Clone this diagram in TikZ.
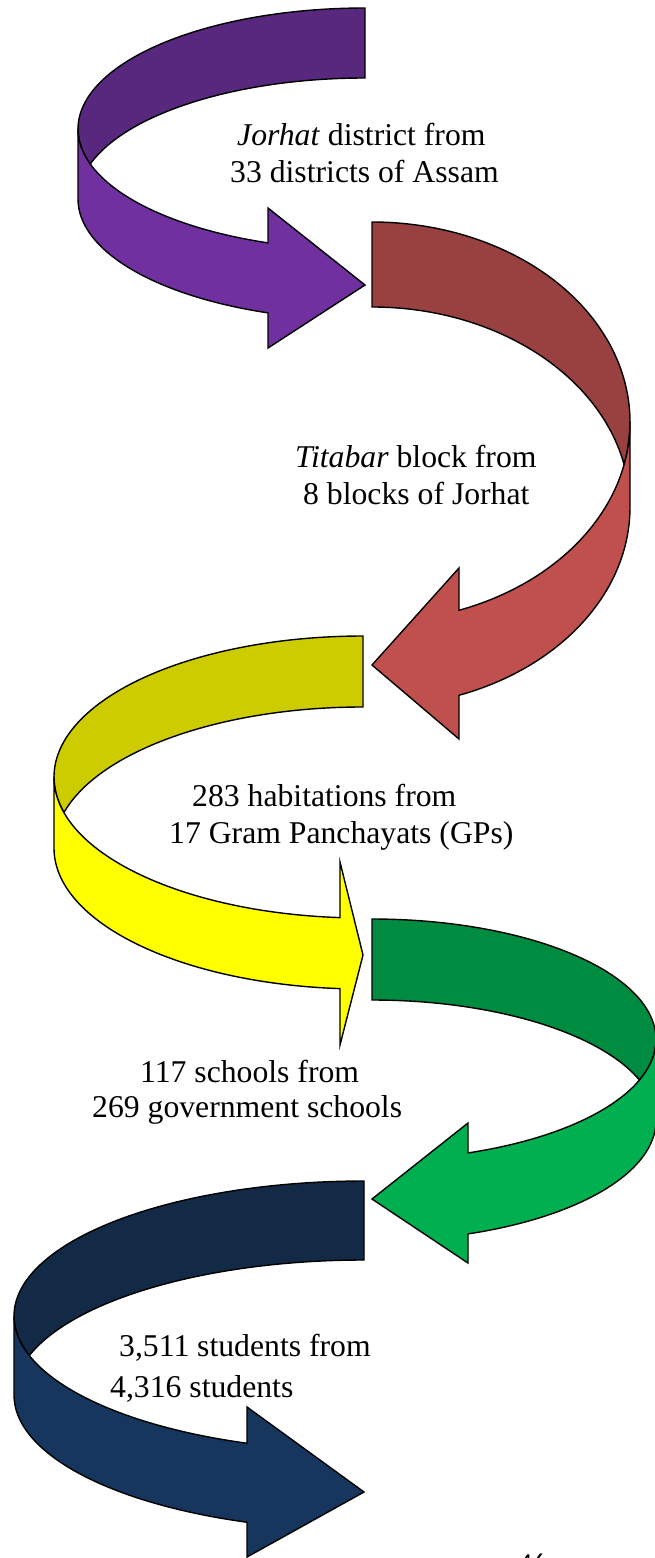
\documentclass[tikz,border=0pt]{standalone}
\usepackage{fontspec}
\setmainfont{Liberation Serif}
\newfontfamily\pagefont{Carlito}
\usetikzlibrary{calc}
\definecolor{distback}{HTML}{58287E}
\definecolor{distfront}{HTML}{7030A0}
\definecolor{blockback}{HTML}{984140}
\definecolor{blockfront}{HTML}{C0504D}
\definecolor{habback}{HTML}{CCCC00}
\definecolor{habfront}{HTML}{FFFF00}
\definecolor{schoolback}{HTML}{008C40}
\definecolor{schoolfront}{HTML}{00B050}
\definecolor{studback}{HTML}{132A47}
\definecolor{studfront}{HTML}{17365D}

\begin{document}
\begin{tikzpicture}[
    x=1pt, y=1pt,
    band/.style={
        draw=black, line width=1.4pt, line join=miter
    },
    lbl/.style={
        font=\fontsize{31.7pt}{38pt}\selectfont, anchor=base west, inner sep=0pt
    },
    pageno/.style={
        font=\pagefont\fontsize{26pt}{30pt}\selectfont, anchor=base west, inner sep=0pt
    }
]
\useasboundingbox (0,0) rectangle (654,-1558);

% Curved ribbon arrows (top to bottom)
% cx/cy/rx/ry/band height/head offset/upper barb/lower barb/tip/side/colours
\foreach \cx/\cy/\rx/\ry/\bandh/\headx/\barbup/\barblow/\tipy/\dir/\backcol/\frontcol in {
    365/129/287/121/70/97/208/348/285/1/distback/distfront,
    372/422/258/200/85/87/568/739/665/-1/blockback/blockfront,
    363/777/309/141/71/23/862/1045/955/1/habback/habfront,
    372/1039.5/284/120.5/81/96/1123/1263/1199/-1/schoolback/schoolfront,
    364/1316/350/135/79/117/1407/1557/1492/1/studback/studfront}{
  \begin{scope}[shift={(\cx,0)}, xscale=\dir]
    \pgfmathsetmacro\fold{asin(\bandh/(2*\ry))}
    \pgfmathsetmacro\base{acos(\headx/\rx)}
    % back of the ribbon
    \draw[band, fill=\backcol] (0,-\cy+\ry)
        arc[start angle=90, end angle=180+\fold, x radius=\rx, y radius=\ry]
        arc[start angle=180-\fold, end angle=90, x radius=\rx, y radius=\ry] -- cycle;
    % front of the ribbon and the head
    \draw[band, fill=\frontcol] (-\rx,-\cy) -- ++(0,-\bandh)
        arc[start angle=180, end angle=180+\base, x radius=\rx, y radius=\ry]
        -- (-\headx,-\barblow) -- (0,-\tipy) -- (-\headx,-\barbup)
        -- ({-\headx},{-\cy-\ry*sin(\base)})
        arc[start angle=180+\base, end angle=180, x radius=\rx, y radius=\ry] -- cycle;
  \end{scope}
}

% Labels
\node[lbl] (jorhat1) at (237,-145) {\textit{Jorhat} district from};
\node[lbl] (jorhat2) at (230,-182) {33 districts of Assam};

\node[lbl] (titabar1) at (295,-467) {\textit{Titabar} block from};
\node[lbl] (titabar2) at (303,-504) {8 blocks of Jorhat};

\node[lbl] (habit1) at (192,-806) {283 habitations from};
\node[lbl] (habit2) at (169,-843) {17 Gram Panchayats (GPs)};

\node[lbl] (school1) at (140,-1082) {117 schools from};
\node[lbl] (school2) at (92,-1117) {269 government schools};

\node[lbl] (stud1) at (119,-1356) {3,511 students from};
\node[lbl] (stud2) at (110,-1397) {4,316 students};

% Page number, cut by the page edge as in the source
\node[pageno] (page) at (519,-1571) {46};

\end{tikzpicture}
\end{document}
